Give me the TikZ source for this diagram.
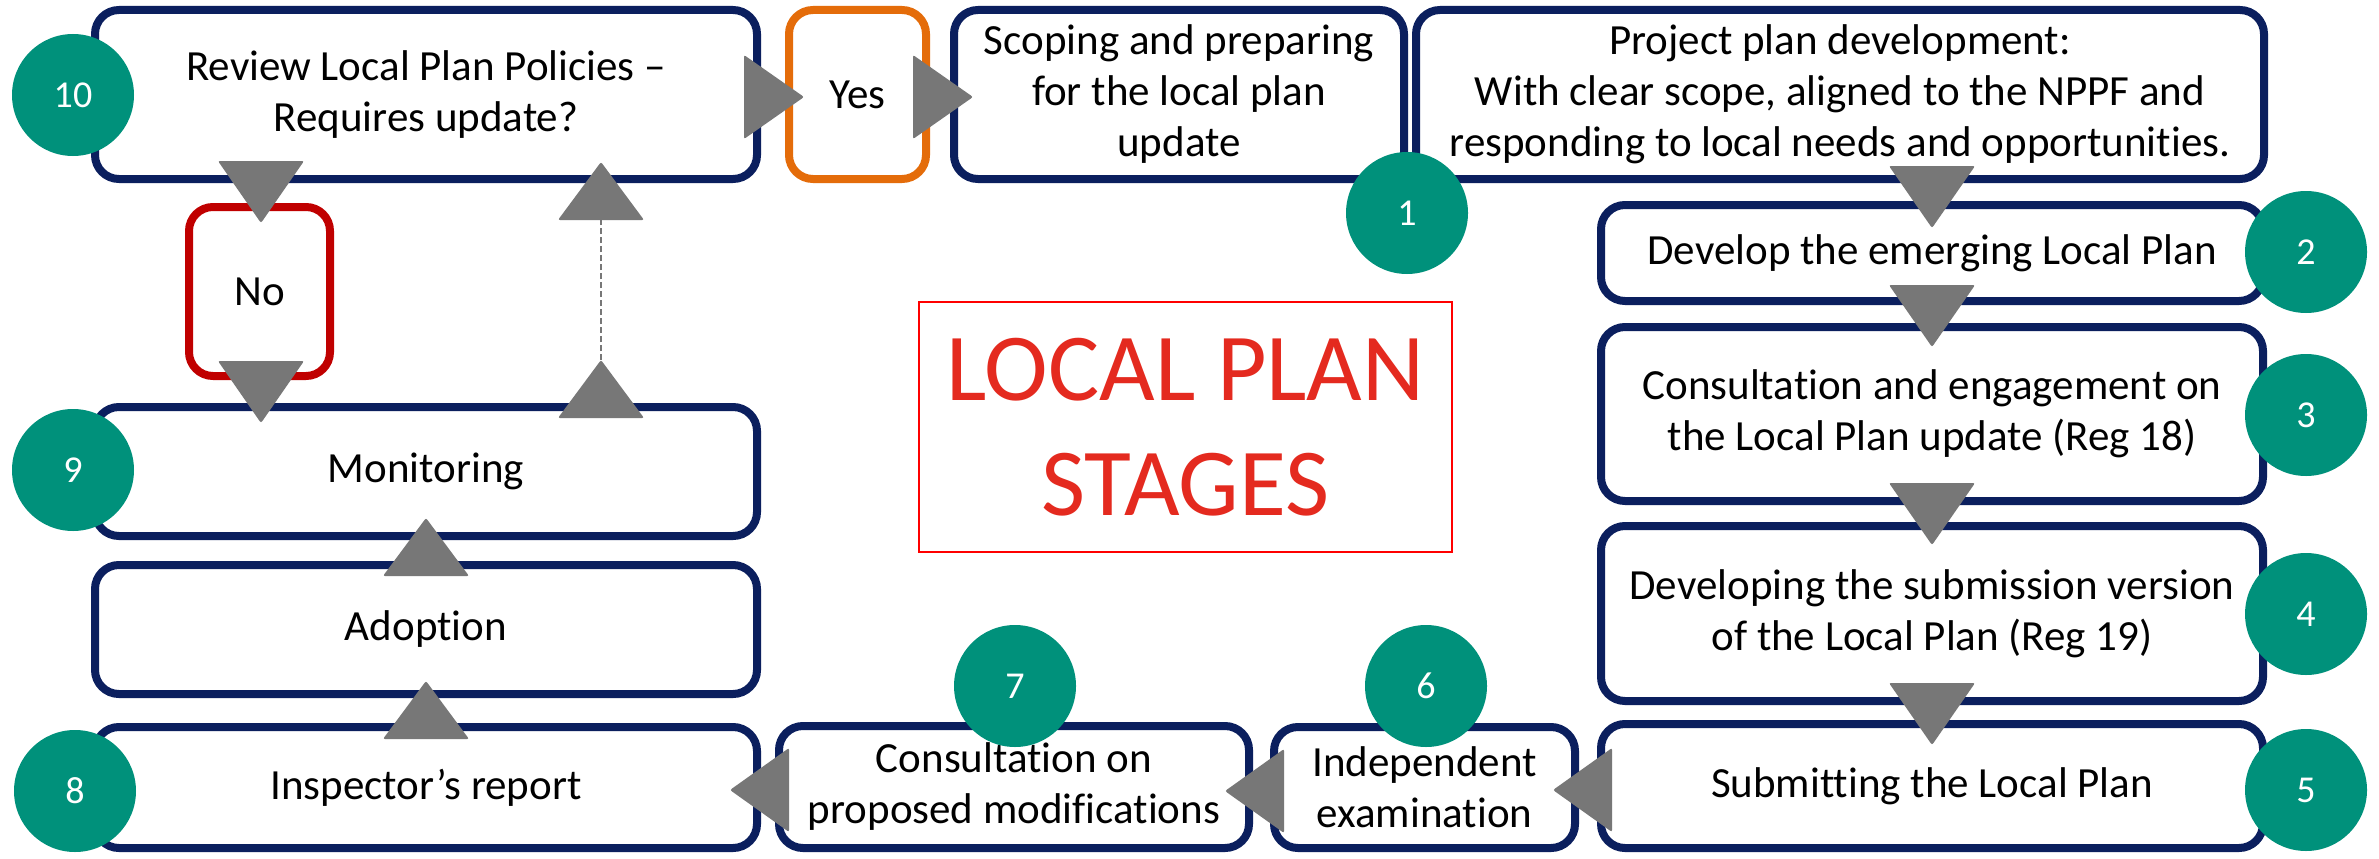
\documentclass[tikz,border=0pt]{standalone}
\usepackage{fontspec}
\setmainfont{Carlito}[Ligatures=NoCommon]
\usetikzlibrary{calc}
\definecolor{navy}{HTML}{0B1F5E}
\definecolor{tealc}{HTML}{00917B}
\definecolor{greyc}{HTML}{777777}
\definecolor{orangec}{HTML}{E46C0A}
\definecolor{redbox}{HTML}{C00000}
\definecolor{titlered}{HTML}{E42A1F}
\newcommand\tridown[1]{\fill[tri] ($(#1)+(-43,-62)$) -- ($(#1)+(43,-62)$) -- (#1) -- cycle;}
\newcommand\triup[1]{\fill[tri] ($(#1)+(-43,58)$) -- ($(#1)+(43,58)$) -- (#1) -- cycle;}
\newcommand\trileft[1]{\fill[tri] ($(#1)+(59,-42)$) -- ($(#1)+(59,42)$) -- (#1) -- cycle;}
\newcommand\triright[1]{\fill[tri] ($(#1)+(-60,-42)$) -- ($(#1)+(-60,42)$) -- (#1) -- cycle;}
\begin{document}
\begin{tikzpicture}[x=1pt,y=-1pt,
  stage/.style={draw=navy, line width=8pt, rounded corners=24pt, fill=white, align=center,
    inner sep=0pt, font=\fontsize{43}{51}\selectfont, text=black},
  yesno/.style={stage, draw=#1},
  num/.style={circle, fill=tealc, minimum size=122pt, inner sep=0pt, text=white,
    font=\fontsize{38}{40}\selectfont},
  tri/.style={fill=greyc, rounded corners=2pt}]
\useasboundingbox (0,0) rectangle (2379,859);
\fill[white] (0,0) rectangle (2379,859);
% boxes
\node[stage, minimum width=662pt, minimum height=169pt] (b10) at (426,94.5) {Review Local Plan Policies –\\Requires update?};
\node[yesno=orangec, minimum width=137pt, minimum height=169pt] (yes) at (857.5,94.5) {Yes};
\node[stage, minimum width=450pt, minimum height=169pt] (b1) at (1179,94.5) {Scoping and preparing\\for the local plan\\update};
\node[stage, minimum width=848pt, minimum height=169pt] (pp) at (1840,94.5) {Project plan development:\\With clear scope, aligned to the NPPF and\\responding to local needs and opportunities.};
\node[stage, minimum width=662pt, minimum height=96pt] (b2) at (1932,253) {Develop the emerging Local Plan};
\node[stage, minimum width=662pt, minimum height=174pt] (b3) at (1932,414) {Consultation and engagement on\\the Local Plan update (Reg 18)};
\node[stage, minimum width=662pt, minimum height=175pt] (b4) at (1932,613.5) {Developing the submission version\\of the Local Plan (Reg 19)};
\node[stage, minimum width=662pt, minimum height=124pt] (b5) at (1932,786) {Submitting the Local Plan};
\node[stage, minimum width=301pt, minimum height=121pt] (b6) at (1424.5,787.5) {Independent\\examination};
\node[stage, minimum width=470pt, minimum height=122pt] (b7) at (1014,787) {Consultation on\\proposed modifications};
\node[stage, minimum width=662pt, minimum height=121pt] (b8) at (426,787.5) {Inspector’s report};
\node[stage, minimum width=662pt, minimum height=129pt] (adopt) at (426,629.5) {Adoption};
\node[stage, minimum width=662pt, minimum height=129pt] (b9) at (426,471.5) {Monitoring};
\node[yesno=redbox, minimum width=141pt, minimum height=169pt] (no) at (259.5,291.5) {No};
\node[draw=red, line width=2pt, minimum width=533pt, minimum height=250pt, inner sep=0pt,
  align=center, text=titlered, font=\fontsize{96}{115}\selectfont] (title) at (1185.5,427) {LOCAL PLAN\\STAGES};
% numbered circles
\node[num] (c10) at (73,95) {10};
\node[num] (c1) at (1407,213) {1};
\node[num] (c2) at (2306,252) {2};
\node[num] (c3) at (2306,415) {3};
\node[num] (c4) at (2306,614) {4};
\node[num] (c5) at (2306,790) {5};
\node[num] (c6) at (1426,686) {6};
\node[num] (c7) at (1015,686) {7};
\node[num] (c8) at (75,791) {8};
\node[num] (c9) at (73,470) {9};
% arrow tips
\coordinate (t1) at (804,97);
\coordinate (t2) at (973,97);
\coordinate (t3) at (1932,228);
\coordinate (t4) at (1932,347);
\coordinate (t5) at (1932,545);
\coordinate (t6) at (1932,745);
\coordinate (t7) at (1553,790);
\coordinate (t8) at (1225,791);
\coordinate (t9) at (730,790);
\coordinate (t10) at (426,681);
\coordinate (t11) at (426,518);
\coordinate (t12a) at (601,360);
\coordinate (t12b) at (601,162);
\coordinate (t13) at (261,223);
\coordinate (t14) at (261,423);
\draw[greyc, line width=1.5pt, dash pattern=on 6pt off 3pt] (t12a) -- ($(t12b)+(0,58)$);
\triright{t1}
\triright{t2}
\tridown{t3}
\tridown{t4}
\tridown{t5}
\tridown{t6}
\trileft{t7}
\trileft{t8}
\trileft{t9}
\triup{t10}
\triup{t11}
\triup{t12a}
\triup{t12b}
\tridown{t13}
\tridown{t14}
\end{tikzpicture}
\end{document}
